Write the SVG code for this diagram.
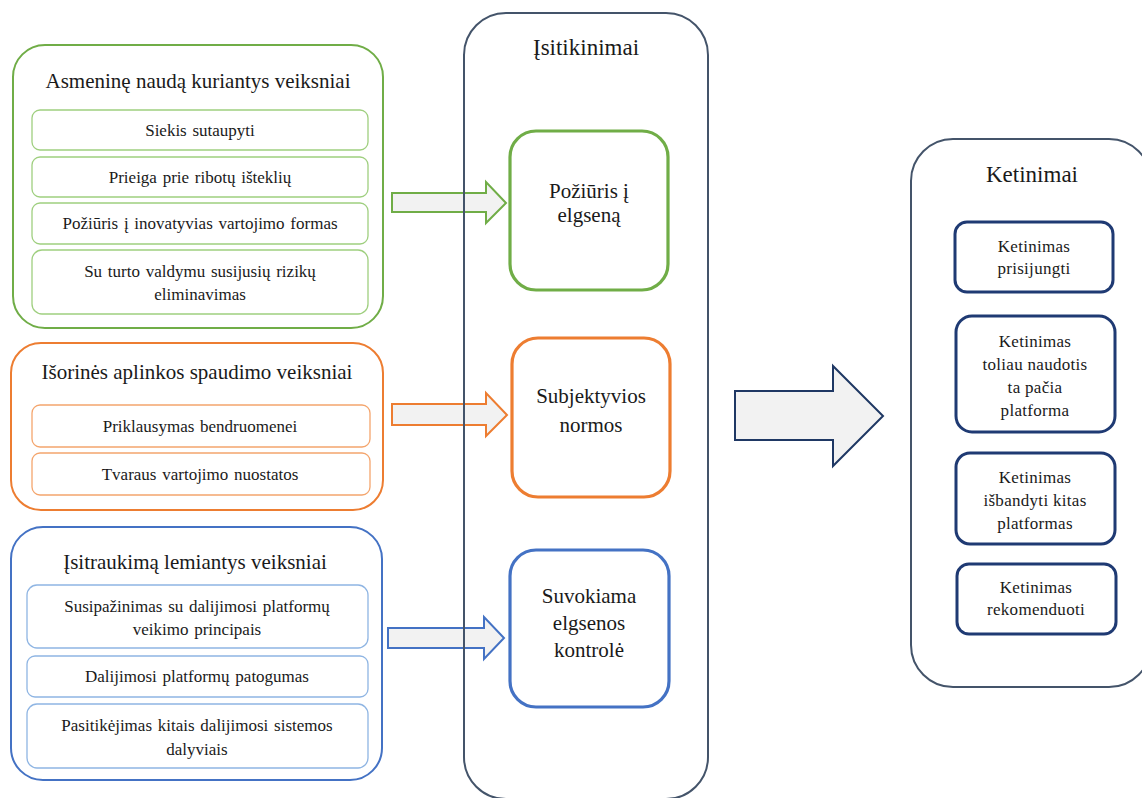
<svg xmlns="http://www.w3.org/2000/svg" width="1142" height="798" viewBox="0 0 1142 798" font-family="'Liberation Serif', 'DejaVu Serif', 'Times New Roman', serif">
<defs>
<style>
text{fill:#1a1a1a;text-anchor:middle}
.t{font-size:21px}
.ti{font-size:17px;word-spacing:1.5px}
.tc{font-size:21px}
.tk{font-size:17px;letter-spacing:0.3px}
.h{font-size:23px}
.g{stroke:#70ad47}
.o{stroke:#ed7d31}
.b{stroke:#4472c4}
.outer{fill:#fff;stroke-width:2}
.gi{fill:#fff;stroke:#9fcf7f;stroke-width:1.3}
.oi{fill:#fff;stroke:#f4a56d;stroke-width:1.3}
.bi{fill:#fff;stroke:#8fb5e3;stroke-width:1.3}
.arr{fill:#f2f2f2;stroke-width:2;stroke-linejoin:miter}
.big{fill:none;stroke:#44546a;stroke-width:2}
.mid{fill:#fff;stroke-width:3.2}
.kb{fill:#fff;stroke:#1f3a73;stroke-width:3}
</style>
</defs>
<rect width="1142" height="798" fill="#fff"/>

<g id="group-asmenine">
<rect class="outer g" x="13" y="45" width="370" height="283" rx="32"/>
<text class="t" x="198" y="88">Asmeninę naudą kuriantys veiksniai</text>
<rect class="gi" x="32" y="110" width="336" height="40" rx="8"/>
<text class="ti" x="200" y="136">Siekis sutaupyti</text>
<rect class="gi" x="32" y="157" width="336" height="40" rx="8"/>
<text class="ti" x="200" y="183">Prieiga prie ribotų išteklių</text>
<rect class="gi" x="32" y="203" width="336" height="41" rx="8"/>
<text class="ti" x="200" y="229">Požiūris į inovatyvias vartojimo formas</text>
<rect class="gi" x="32" y="250" width="336" height="64" rx="10"/>
<text class="ti" x="200" y="277">Su turto valdymu susijusių rizikų</text>
<text class="ti" x="200" y="300">eliminavimas</text>
</g>

<g id="group-isorines">
<rect class="outer o" x="11" y="343" width="372" height="167" rx="30"/>
<text class="t" x="197" y="379">Išorinės aplinkos spaudimo veiksniai</text>
<rect class="oi" x="32" y="405" width="338" height="42" rx="8"/>
<text class="ti" x="200" y="432">Priklausymas bendruomenei</text>
<rect class="oi" x="32" y="453" width="338" height="42" rx="8"/>
<text class="ti" x="200" y="480">Tvaraus vartojimo nuostatos</text>
</g>

<g id="group-isitraukima">
<rect class="outer b" x="11" y="527" width="371" height="253" rx="32"/>
<text class="t" x="195" y="569">Įsitraukimą lemiantys veiksniai</text>
<rect class="bi" x="27" y="585" width="341" height="63" rx="10"/>
<text class="ti" x="197" y="612">Susipažinimas su dalijimosi platformų</text>
<text class="ti" x="197" y="635">veikimo principais</text>
<rect class="bi" x="27" y="656" width="341" height="41" rx="8"/>
<text class="ti" x="197" y="682">Dalijimosi platformų patogumas</text>
<rect class="bi" x="27" y="704" width="341" height="64" rx="10"/>
<text class="ti" x="197" y="731">Pasitikėjimas kitais dalijimosi sistemos</text>
<text class="ti" x="197" y="755">dalyviais</text>
</g>

<g id="connectors">
<polygon class="arr g" points="392,193 486,193 486,182 506,203 486,223 486,212 392,212"/>
<polygon class="arr o" points="392,404 486,404 486,393 507,415 486,436 486,425 392,425"/>
<polygon class="arr b" points="388,628 484,628 484,617 504,638 484,659 484,648 388,648"/>
<polygon class="arr" stroke="#1f3864" stroke-width="4.5" points="735,391 833,391 833,366 883,416 833,466 833,440 735,440"/>
</g>

<g id="isitikinimai">
<rect class="big" x="464" y="13" width="244" height="786" rx="42"/>
<text class="h" x="586" y="55">Įsitikinimai</text>
</g>

<g id="poziuris">
<rect class="mid g" x="510" y="131" width="158" height="159" rx="26"/>
<text class="tc" x="589" y="198">Požiūris į</text>
<text class="tc" x="589" y="222">elgseną</text>
</g>

<g id="subjektyvios">
<rect class="mid o" x="512" y="338" width="158" height="159" rx="26" stroke-width="4"/>
<text class="tc" x="591" y="403">Subjektyvios</text>
<text class="tc" x="591" y="432">normos</text>
</g>

<g id="suvokiama">
<rect class="mid b" x="510" y="550" width="159" height="157" rx="26"/>
<text class="tc" x="589" y="603">Suvokiama</text>
<text class="tc" x="589" y="630">elgsenos</text>
<text class="tc" x="589" y="657">kontrolė</text>
</g>

<g id="ketinimai">
<rect class="big" x="911" y="139" width="240" height="548" rx="42"/>
<text class="h" x="1032" y="182">Ketinimai</text>
</g>

<g id="k-prisijungti">
<rect class="kb" x="955" y="222" width="158" height="70" rx="12"/>
<text class="tk" x="1034" y="252">Ketinimas</text>
<text class="tk" x="1034" y="274">prisijungti</text>
</g>

<g id="k-toliau">
<rect class="kb" x="956" y="316" width="159" height="116" rx="16"/>
<text class="tk" x="1035" y="347">Ketinimas</text>
<text class="tk" x="1035" y="370">toliau naudotis</text>
<text class="tk" x="1035" y="393">ta pačia</text>
<text class="tk" x="1035" y="416">platforma</text>
</g>

<g id="k-isbandyti">
<rect class="kb" x="956" y="453" width="159" height="91" rx="14"/>
<text class="tk" x="1035" y="483">Ketinimas</text>
<text class="tk" x="1035" y="506">išbandyti kitas</text>
<text class="tk" x="1035" y="529">platformas</text>
</g>

<g id="k-rekomenduoti">
<rect class="kb" x="957" y="564" width="159" height="70" rx="12"/>
<text class="tk" x="1036" y="593">Ketinimas</text>
<text class="tk" x="1036" y="615">rekomenduoti</text>
</g>
</svg>
